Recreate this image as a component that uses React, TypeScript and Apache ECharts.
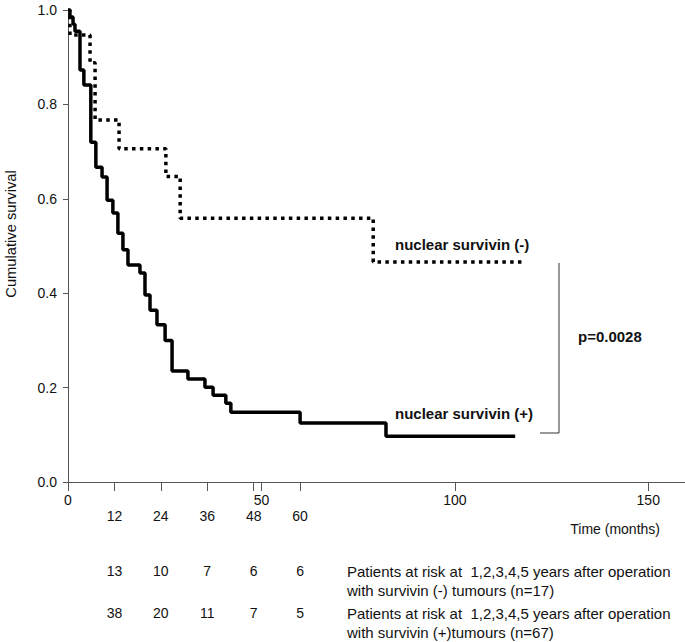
import React, { useEffect, useRef } from "react";
import * as echarts from "echarts";

// Kaplan-Meier steps: time (months) at which survival changes, and survival after that time
const negTimes = [0, 0.5, 5.7, 7.0, 13.2, 25.3, 29.0, 78.9, 118.2];
const negSurv = [1.0, 0.947, 0.888, 0.767, 0.706, 0.647, 0.559, 0.466, 0.466];

const posTimes = [0, 0.5, 1.3, 1.8, 3.1, 4.1, 5.9, 7.2, 8.8, 10.1, 11.6, 12.9, 14.2, 15.5, 18.6, 19.9, 21.2, 23.0, 25.1, 26.9, 31.0, 35.4, 37.5, 40.8, 42.1, 60.0, 82.2, 115.6];
const posSurv = [1.0, 0.985, 0.97, 0.955, 0.873, 0.841, 0.72, 0.667, 0.646, 0.597, 0.57, 0.527, 0.492, 0.46, 0.443, 0.396, 0.364, 0.333, 0.3, 0.235, 0.218, 0.201, 0.184, 0.167, 0.148, 0.125, 0.097, 0.097];

const xTickValues = [0, 12, 24, 36, 48, 50, 60, 100, 150];
const xMajorLabels = [0, 50, 100, 150];
const xMonthLabels = [12, 24, 36, 48, 60];
const riskNeg = [13, 10, 7, 6, 6];
const riskPos = [38, 20, 11, 7, 5];

const FONT = "Liberation Sans, Arial, Helvetica, sans-serif";
const X_MAX = 159.5;

export default function App() {
  const ref = useRef<HTMLDivElement>(null);
  useEffect(() => {
    if (!ref.current) return;
    const chart = echarts.init(ref.current, undefined, { renderer: "svg" });
    const baseX = {
      type: "value",
      min: 0,
      max: X_MAX,
      gridIndex: 0,
      position: "bottom",
      splitLine: { show: false },
    };
    const hiddenAxis = (values: number[], margin: number, fmt: (v: number) => string) => ({
      ...baseX,
      axisLine: { show: false },
      axisTick: { show: false },
      axisLabel: {
        customValues: values,
        margin,
        fontSize: 14,
        color: "#111",
        fontFamily: FONT,
        formatter: fmt,
      },
    });
    const txt = (x: number, y: number, text: string, size: number, bold = false, align = "left") => ({
      type: "text",
      x,
      y,
      style: {
        text,
        fontSize: size,
        fontWeight: bold ? "bold" : "normal",
        fontFamily: FONT,
        fill: "#111",
        align,
        verticalAlign: "middle",
      },
    });
    chart.setOption({
      animation: false,
      backgroundColor: "#fff",
      grid: { left: 68, right: 0, top: 10, bottom: 160, containLabel: false },
      xAxis: [
        {
          ...baseX,
          axisLine: { show: true, lineStyle: { color: "#555", width: 1 } },
          axisTick: { show: true, customValues: xTickValues, length: 9, lineStyle: { color: "#555", width: 1 } },
          axisLabel: {
            customValues: xMajorLabels,
            margin: 11,
            fontSize: 14,
            color: "#111",
            fontFamily: FONT,
          },
        },
        hiddenAxis(xMonthLabels, 27, (v) => String(v)),
        hiddenAxis(xMonthLabels, 82, (v) => String(riskNeg[xMonthLabels.indexOf(v)])),
        hiddenAxis(xMonthLabels, 124, (v) => String(riskPos[xMonthLabels.indexOf(v)])),
      ],
      yAxis: {
        type: "value",
        min: 0,
        max: 1,
        interval: 0.2,
        axisLine: { show: true, lineStyle: { color: "#555", width: 1 } },
        axisTick: { show: true, length: 5, lineStyle: { color: "#555" } },
        axisLabel: {
          margin: 11,
          fontSize: 14,
          color: "#111",
          fontFamily: FONT,
          formatter: (v: number) => v.toFixed(1),
        },
        splitLine: { show: false },
      },
      series: [
        {
          type: "line",
          name: "nuclear survivin (+)",
          step: "end",
          showSymbol: false,
          data: posTimes.map((t, i) => [t, posSurv[i]]),
          lineStyle: { color: "#000", width: 3.5, type: "solid" },
          z: 3,
        },
        {
          type: "line",
          name: "nuclear survivin (-)",
          step: "end",
          showSymbol: false,
          data: negTimes.map((t, i) => [t, negSurv[i]]),
          lineStyle: { color: "#000", width: 3.5, type: [3.5, 4.3], cap: "butt" },
          z: 2,
        },
      ],
      graphic: [
        {
          type: "text",
          x: 11,
          y: 234,
          rotation: Math.PI / 2,
          scaleX: 1.05,
          style: {
            text: "Cumulative survival",
            fontSize: 14,
            fontFamily: FONT,
            fill: "#111",
            align: "center",
            verticalAlign: "middle",
          },
        },
        txt(660, 529, "Time (months)", 14, false, "right"),
        txt(395, 244, "nuclear survivin (-)", 15, true),
        txt(395, 413, "nuclear survivin (+)", 15, true),
        txt(578, 336, "p=0.0028", 15, true),
        {
          type: "polyline",
          shape: { points: [[559, 263], [559, 433], [540, 433]] },
          style: { stroke: "#333", lineWidth: 1, fill: null },
        },
        txt(347, 571, "Patients at risk at  1,2,3,4,5 years after operation", 15),
        txt(347, 590, "with survivin (-) tumours (n=17)", 15),
        txt(347, 613, "Patients at risk at  1,2,3,4,5 years after operation", 15),
        txt(347, 632, "with survivin (+)tumours (n=67)", 15),
      ],
    });
    return () => chart.dispose();
  }, []);
  return (
    <div
      ref={ref}
      style={{ position: "fixed", left: 0, top: 0, width: 685, height: 642, background: "#fff" }}
    />
  );
}
